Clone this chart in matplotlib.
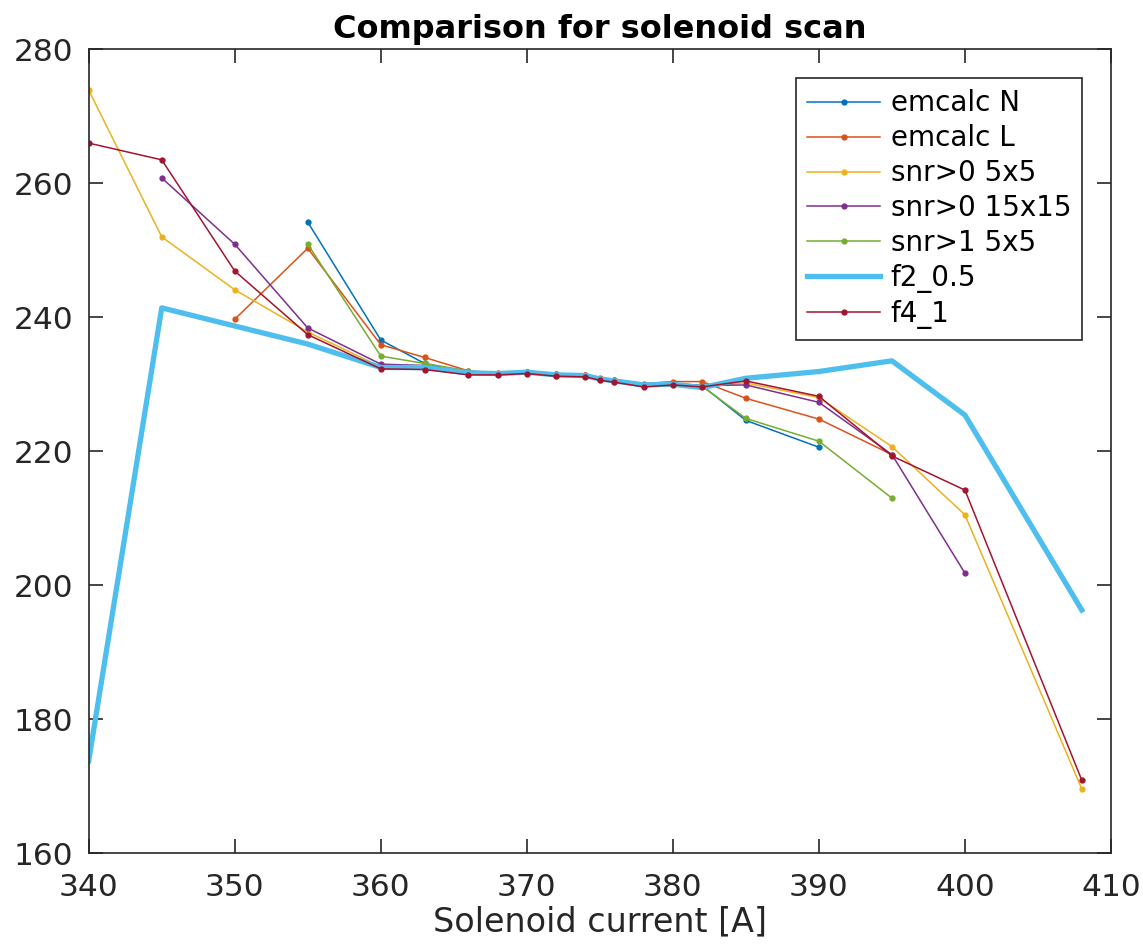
import numpy as np
import matplotlib.pyplot as plt

plt.switch_backend('agg')
plt.rcParams['font.family'] = ['DejaVu Sans']

# solenoid current [A] for each series
x_emN = [355, 360, 363, 366, 368, 370, 372, 374, 375, 376, 378, 380, 382, 385, 390]
y_emN = [254.2, 236.6, 233.1, 231.8, 231.6, 231.8, 231.5, 231.4, 230.8, 230.6, 229.9, 230.1, 229.8, 224.6, 220.6]

x_emL = [350, 355, 360, 363, 366, 368, 370, 372, 374, 375, 376, 378, 380, 382, 385, 390, 395]
y_emL = [239.7, 250.3, 235.9, 234.0, 232.0, 231.7, 231.9, 231.6, 231.4, 230.9, 230.7, 230.1, 230.4, 230.4, 227.9, 224.8, 219.5]

x_snr0_5 = [340, 345, 350, 355, 360, 363, 366, 368, 370, 372, 374, 375, 376, 378, 380, 382, 385, 390, 395, 400, 408]
y_snr0_5 = [273.9, 252.0, 244.1, 237.8, 232.6, 232.5, 231.6, 231.5, 231.7, 231.3, 231.2, 230.7, 230.4, 229.8, 230.0, 229.7, 230.2, 228.0, 220.7, 210.5, 169.6]

x_snr0_15 = [345, 350, 355, 360, 363, 366, 368, 370, 372, 374, 375, 376, 378, 380, 382, 385, 390, 395, 400]
y_snr0_15 = [260.8, 250.9, 238.4, 233.0, 232.8, 231.7, 231.6, 231.8, 231.4, 231.3, 230.8, 230.5, 229.9, 230.1, 229.8, 229.9, 227.3, 219.5, 201.8]

x_snr1_5 = [355, 360, 363, 366, 368, 370, 372, 374, 375, 376, 378, 380, 382, 385, 390, 395]
y_snr1_5 = [250.9, 234.2, 233.1, 232.0, 231.6, 231.8, 231.5, 231.3, 230.8, 230.5, 229.9, 230.1, 229.7, 224.9, 221.5, 213.0]

x_f2 = [340, 345, 350, 355, 360, 363, 366, 368, 370, 372, 374, 375, 376, 378, 380, 382, 385, 390, 395, 400, 408]
y_f2 = [173.8, 241.4, 238.7, 236.0, 232.5, 232.5, 231.7, 231.6, 231.8, 231.4, 231.3, 230.8, 230.5, 229.9, 230.0, 229.5, 230.9, 231.9, 233.5, 225.4, 196.3]

x_f4 = [340, 345, 350, 355, 360, 363, 366, 368, 370, 372, 374, 375, 376, 378, 380, 382, 385, 390, 395, 400, 408]
y_f4 = [266.0, 263.5, 246.9, 237.4, 232.3, 232.2, 231.4, 231.4, 231.6, 231.2, 231.1, 230.6, 230.3, 229.6, 229.9, 229.6, 230.5, 228.2, 219.3, 214.2, 170.9]

fig = plt.figure(figsize=(11.43, 9.48), dpi=100)
ax = fig.add_axes([0.0776, 0.100, 0.8944, 0.848])

kw = dict(marker='.', markersize=7, linewidth=1.1)
ax.plot(x_emN, y_emN, color='#0072BD', label='emcalc N', **kw)
ax.plot(x_emL, y_emL, color='#D95319', label='emcalc L', **kw)
ax.plot(x_snr0_5, y_snr0_5, color='#EDB120', label='snr>0 5x5', **kw)
ax.plot(x_snr0_15, y_snr0_15, color='#7E2F8E', label='snr>0 15x15', **kw)
ax.plot(x_snr1_5, y_snr1_5, color='#77AC30', label='snr>1 5x5', **kw)
ax.plot(x_f2, y_f2, color='#4DBEEE', label='f2_0.5', marker='.', markersize=3, linewidth=3.8)
ax.plot(x_f4, y_f4, color='#A2142F', label='f4_1', **kw)

ax.set_xlim(340, 410)
ax.set_ylim(160, 280)
ax.set_xticks(np.arange(340, 411, 10))
ax.set_yticks(np.arange(160, 281, 20))
ax.tick_params(direction='in', length=10, width=1.2, labelsize=22.5, colors='#262626',
               top=True, right=True)
ax.tick_params(axis='x', pad=14)
ax.tick_params(axis='y', pad=11)
for s in ax.spines.values():
    s.set_color('#262626')
    s.set_linewidth(1.2)

ax.set_title('Comparison for solenoid scan', fontsize=23, fontweight='bold', pad=8)
ax.set_xlabel('Solenoid current [A]', fontsize=24, color='#262626', labelpad=3)

leg = ax.legend(loc='upper right', bbox_to_anchor=(0.972, 0.964), borderaxespad=0,
                fontsize=20, fancybox=False, edgecolor='#262626', framealpha=1,
                handlelength=2.6, labelspacing=0.25, borderpad=0.4, handletextpad=0.4)
leg.get_frame().set_linewidth(1.2)

fig.savefig('out.png', dpi=100)
